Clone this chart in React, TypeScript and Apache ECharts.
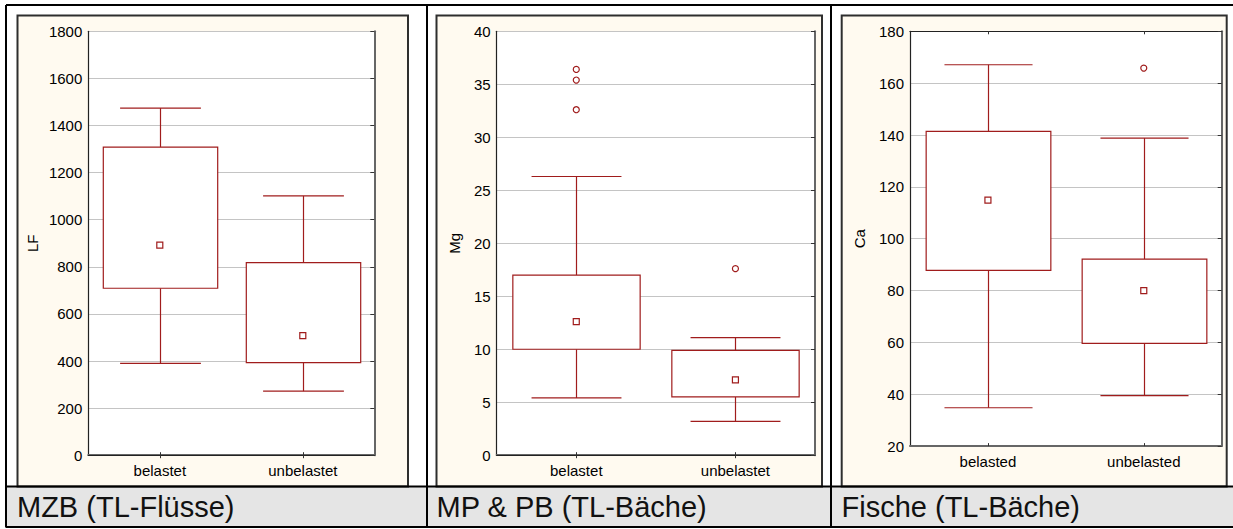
import React, { useEffect, useRef } from 'react';
import * as echarts from 'echarts';

const FONT = '"Liberation Sans", Arial, Helvetica, sans-serif';
const RED = '#a01c1c';

// MZB (TL-Flüsse): conductivity LF
const mzbCategories = ['belastet', 'unbelastet'];
const mzbBoxes = [
  [390, 709, 1308, 1474], // whisker low, 25 %, 75 %, whisker high
  [272, 393, 818, 1101],
];
const mzbMedians = [892, 508];
const mzbOutliers: number[][] = [];
const mzbAxis = ['LF', 0, 1800, 200] as const;

// MP & PB (TL-Bäche): magnesium
const mpCategories = ['belastet', 'unbelastet'];
const mpBoxes = [
  [5.4, 10.0, 17.0, 26.3],
  [3.2, 5.5, 9.9, 11.1],
];
const mpMedians = [12.6, 7.1];
const mpOutliers = [
  [0, 36.4],
  [0, 35.4],
  [0, 32.6],
  [1, 17.6],
];
const mpAxis = ['Mg', 0, 40, 5] as const;

// Fische (TL-Bäche): calcium
const fischeCategories = ['belasted', 'unbelasted'];
const fischeBoxes = [
  [34.8, 87.8, 141.4, 167.1],
  [39.5, 59.6, 92.1, 138.8],
];
const fischeMedians = [114.9, 80.0];
const fischeOutliers = [[1, 165.8]];
const fischeAxis = ['Ca', 20, 180, 20] as const;

const captions = ['MZB (TL-Flüsse)', 'MP & PB (TL-Bäche)', 'Fische (TL-Bäche)'];

// page layout of the three table cells
const layout = [
  { panel: [17.5, 408], plot: [88.3, 374.3, 31.3, 455.2], nameGap: 48, captionX: 17 },
  { panel: [436.5, 822], plot: [496.7, 815, 31.3, 455.2], nameGap: 35, captionX: 436.5 },
  { panel: [841.7, 1226.7], plot: [910, 1221.7, 31.3, 446.1], nameGap: 43, captionX: 841.5 },
];

const panelData = [
  { cats: mzbCategories, boxes: mzbBoxes, medians: mzbMedians, outliers: mzbOutliers, axis: mzbAxis },
  { cats: mpCategories, boxes: mpBoxes, medians: mpMedians, outliers: mpOutliers, axis: mpAxis },
  { cats: fischeCategories, boxes: fischeBoxes, medians: fischeMedians, outliers: fischeOutliers, axis: fischeAxis },
];

function renderBox(_params: any, api: any) {
  const idx = api.value(0);
  const lo = api.coord([idx, api.value(1)]);
  const q1 = api.coord([idx, api.value(2)]);
  const q3 = api.coord([idx, api.value(3)]);
  const hi = api.coord([idx, api.value(4)]);
  const band = api.size([1, 0])[0];
  const half = band * 0.4;
  const cap = band * 0.2825;
  const cx = Math.round(lo[0]) + 0.5;
  const line = { stroke: RED, lineWidth: 1.2, fill: 'none' };
  return {
    type: 'group',
    children: [
      { type: 'line', shape: { x1: cx, y1: hi[1], x2: cx, y2: q3[1] }, style: line },
      { type: 'line', shape: { x1: cx, y1: q1[1], x2: cx, y2: lo[1] }, style: line },
      { type: 'line', shape: { x1: cx - cap, y1: hi[1], x2: cx + cap, y2: hi[1] }, style: line },
      { type: 'line', shape: { x1: cx - cap, y1: lo[1], x2: cx + cap, y2: lo[1] }, style: line },
      {
        type: 'rect',
        shape: { x: cx - half, y: q3[1], width: half * 2, height: q1[1] - q3[1] },
        style: { fill: '#fff', stroke: RED, lineWidth: 1.2 },
      },
    ],
  };
}

function buildOption() {
  const grid: any[] = [];
  const xAxis: any[] = [];
  const yAxis: any[] = [];
  const series: any[] = [];
  const graphic: any[] = [];

  // caption band and table rules
  graphic.push({ type: 'rect', z: -20, shape: { x: 6, y: 486.5, width: 1227, height: 40.5 }, style: { fill: '#e5e5e5' } });

  panelData.forEach((d, p) => {
    const L = layout[p];
    const [left, right, top, bottom] = L.plot;
    const [name, min, max, interval] = d.axis;
    grid.push({
      left,
      top,
      width: right - left,
      height: bottom - top,
      show: true,
      backgroundColor: '#ffffff',
      borderWidth: 0,
    });
    const labelStyle = { color: '#000', fontFamily: FONT, fontSize: 15 };
    xAxis.push({
      type: 'category',
      gridIndex: p,
      data: d.cats,
      position: 'bottom',
      axisLine: { show: true, lineStyle: { color: '#666', width: 2 } },
      axisTick: { show: true, inside: true, alignWithLabel: true, length: 3, lineStyle: { color: '#333' } },
      axisLabel: { ...labelStyle, margin: 8 },
      splitLine: { show: false },
    });
    xAxis.push({
      type: 'category',
      gridIndex: p,
      data: d.cats,
      position: 'top',
      axisLine: { show: true, lineStyle: { color: '#222', width: 1.2 } },
      axisTick: { show: true, inside: true, alignWithLabel: true, length: 3, lineStyle: { color: '#333' } },
      axisLabel: { show: false },
      splitLine: { show: false },
    });
    yAxis.push({
      type: 'value',
      gridIndex: p,
      min,
      max,
      interval,
      position: 'left',
      name,
      nameLocation: 'middle',
      nameRotate: 90,
      nameGap: L.nameGap,
      nameTextStyle: { ...labelStyle },
      axisLine: { show: true, lineStyle: { color: '#222', width: 1.2 } },
      axisTick: { show: false },
      axisLabel: { ...labelStyle, margin: 6, formatter: (v: number) => String(v) },
      splitLine: { show: true, lineStyle: { color: '#c4c4c4', width: 1 } },
    });
    yAxis.push({
      type: 'value',
      gridIndex: p,
      min,
      max,
      interval,
      position: 'right',
      axisLine: { show: true, lineStyle: { color: '#666', width: 2 } },
      axisTick: { show: true, inside: true, length: 4, lineStyle: { color: '#333' } },
      axisLabel: { show: false },
      splitLine: { show: false },
    });

    series.push({
      type: 'custom',
      xAxisIndex: p * 2,
      yAxisIndex: p * 2,
      renderItem: renderBox,
      encode: { x: 0, y: [1, 2, 3, 4] },
      data: d.boxes.map((b, i) => [i, ...b]),
      z: 3,
    });
    series.push({
      type: 'scatter',
      xAxisIndex: p * 2,
      yAxisIndex: p * 2,
      symbol: 'rect',
      symbolSize: 6,
      itemStyle: { color: '#fff', borderColor: RED, borderWidth: 1.2, opacity: 1 },
      data: d.medians.map((v, i) => [i, v]),
      z: 5,
    });
    series.push({
      type: 'scatter',
      xAxisIndex: p * 2,
      yAxisIndex: p * 2,
      symbol: 'circle',
      symbolSize: 6,
      itemStyle: { color: '#fff', borderColor: RED, borderWidth: 1.2, opacity: 1 },
      data: d.outliers,
      z: 5,
    });

    // cream panel behind the plot
    graphic.push({
      type: 'rect',
      z: -10,
      shape: { x: L.panel[0], y: 15.5, width: L.panel[1] - L.panel[0], height: 486.5 - 15.5 },
      style: { fill: '#fffaf0', stroke: '#2e2e2e', lineWidth: 2 },
    });
    graphic.push({
      type: 'text',
      z: 10,
      x: L.captionX,
      y: 507,
      style: {
        text: captions[p],
        fill: '#111',
        font: `29px ${FONT}`,
        textVerticalAlign: 'middle',
        verticalAlign: 'middle',
      },
    });
  });

  const rule = (x1: number, y1: number, x2: number, y2: number) => ({
    type: 'line',
    z: 8,
    shape: { x1, y1, x2, y2 },
    style: { stroke: '#000', lineWidth: 2 },
  });
  graphic.push(rule(6, 5, 1233, 5));
  graphic.push(rule(6, 5, 6, 527.5));
  graphic.push(rule(427, 5, 427, 527.5));
  graphic.push(rule(831, 5, 831, 527.5));
  graphic.push(rule(6, 486.5, 1233, 486.5));
  graphic.push(rule(6, 527, 1233, 527));

  return {
    animation: false,
    backgroundColor: '#ffffff',
    textStyle: { fontFamily: FONT },
    grid,
    xAxis,
    yAxis,
    series,
    graphic: { elements: graphic },
  };
}

export default function App() {
  const ref = useRef<HTMLDivElement>(null);
  useEffect(() => {
    if (!ref.current) return;
    const chart = echarts.init(ref.current, undefined, { renderer: 'svg' });
    chart.setOption(buildOption() as any);
    return () => chart.dispose();
  }, []);
  return (
    <div
      ref={ref}
      style={{ position: 'absolute', left: 0, top: 0, width: 1233, height: 529 }}
    />
  );
}
